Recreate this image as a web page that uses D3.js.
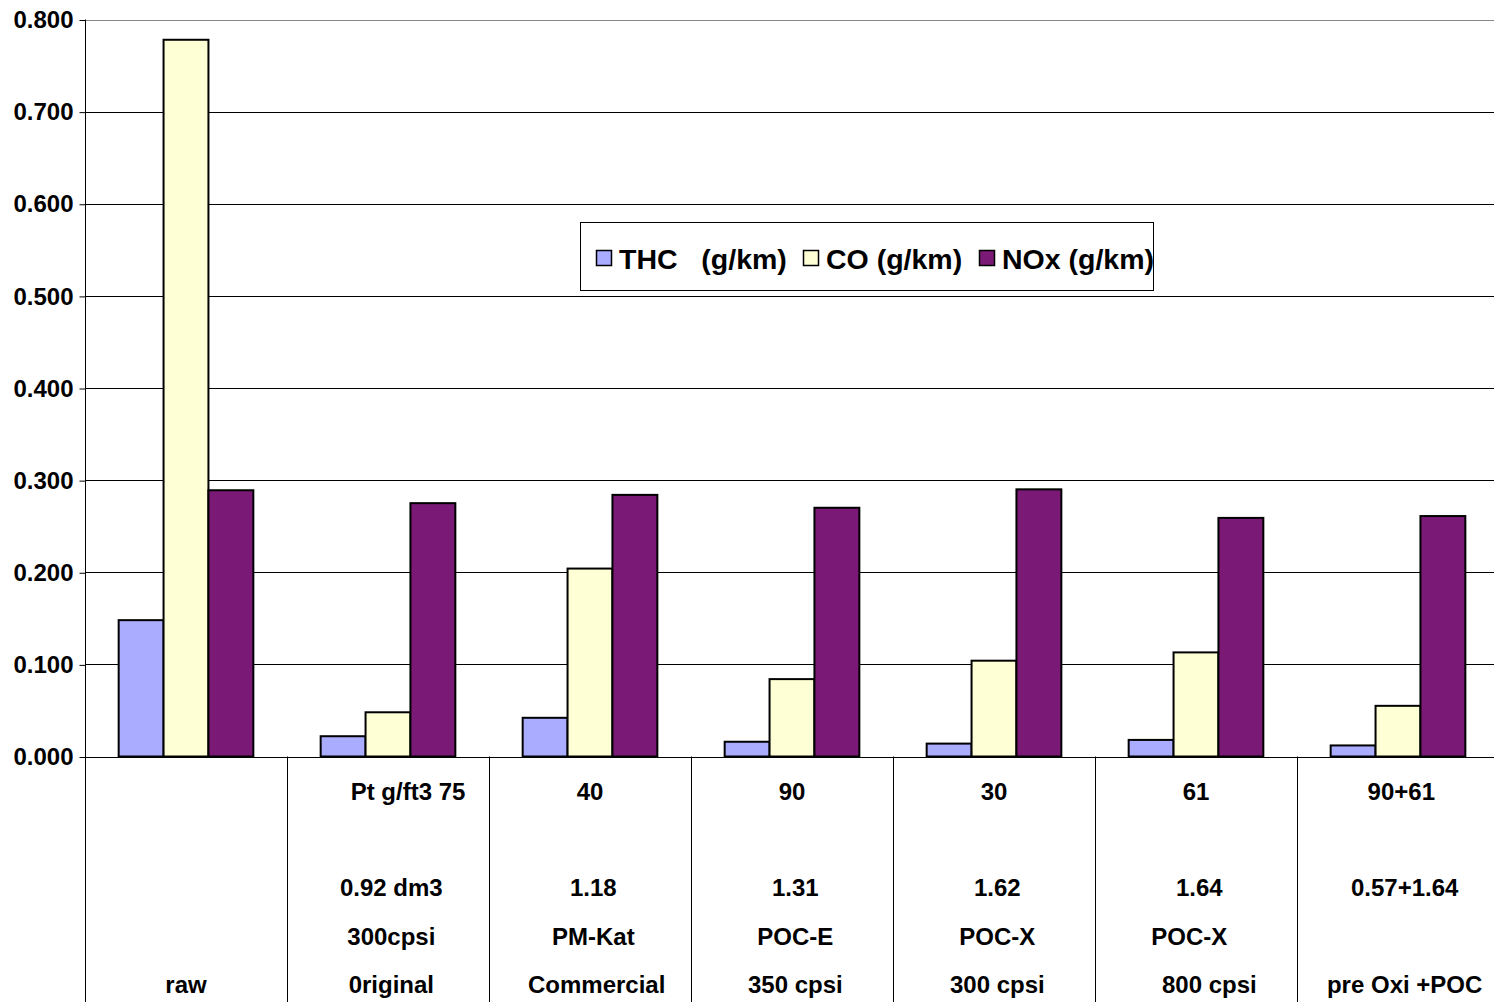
<!DOCTYPE html>
<html><head><meta charset="utf-8">
<script src="https://cdn.jsdelivr.net/npm/d3@7"></script>
<style>
html,body{margin:0;padding:0;background:#fff;}
svg{display:block;font-family:"Liberation Sans",Arial,sans-serif;font-weight:bold;}
</style></head>
<body><svg id="chart" width="1494" height="1002"></svg>
<script>
const categories = ["raw","Pt75","40","90","30","61","90+61"];
const categoryLines = [
  ["", "", "", "", "raw"],
  ["      Pt g/ft3 75", "", " 0.92 dm3", " 300cpsi", " 0riginal"],
  ["40", "", " 1.18", " PM-Kat", "  Commercial"],
  ["90", "", " 1.31", " POC-E", " 350 cpsi"],
  ["30", "", " 1.62", " POC-X", " 300 cpsi"],
  ["61", "", " 1.64", "POC-X  ", "    800 cpsi"],
  [" 90+61", "", "  0.57+1.64", "", "  pre Oxi +POC"]
];
const seriesNames = ["THC   (g/km)", "CO (g/km)", "NOx (g/km)"];
const THC = [0.148, 0.022, 0.042, 0.016, 0.014, 0.018, 0.012];
const CO  = [0.778, 0.048, 0.204, 0.084, 0.104, 0.113, 0.055];
const NOx = [0.289, 0.275, 0.284, 0.270, 0.290, 0.259, 0.261];
const yTicks = [0, 0.1, 0.2, 0.3, 0.4, 0.5, 0.6, 0.7, 0.8];
const colors = ["#A9ACFF", "#FFFFD6", "#7B1A76"];

(function () {
const series = [THC, CO, NOx];
const svg = d3.select("#chart");
const mLeft = 85, mRight = 1499, mTop = 19.5, mBottom = 756.5, labelBottom = 1002;

const x = d3.scaleBand().domain(categories).range([mLeft, mRight]).paddingInner(0).paddingOuter(0);
const inner = d3.scaleBand().domain(d3.range(3)).range([0, x.bandwidth()]).paddingInner(0).paddingOuter(0.75);
const y = d3.scaleLinear().domain([0, 0.8]).range([mBottom, mTop]);

// gridlines
svg.append("g").selectAll("line").data(yTicks).join("line")
  .attr("x1", mLeft).attr("x2", mRight)
  .attr("y1", d => Math.round(y(d)) + 0.5).attr("y2", d => Math.round(y(d)) + 0.5)
  .attr("stroke", (d,i) => i === yTicks.length-1 ? "#888" : "#000").attr("stroke-width", 1);

// y axis
const yAxis = d3.axisLeft(y).tickValues(yTicks).tickFormat(d3.format(".3f")).tickSize(6).tickPadding(6);
const ya = svg.append("g").attr("transform", `translate(${mLeft + 0.5},0.5)`).call(yAxis);
ya.select(".domain").remove();
ya.selectAll(".tick line").attr("stroke", "#000");
ya.selectAll("text").attr("font-size", 24).attr("font-weight", "bold").attr("fill", "#000")
  .attr("font-family", "'Liberation Sans', Arial, sans-serif");
svg.append("line").attr("x1", mLeft + 0.5).attr("x2", mLeft + 0.5).attr("y1", mTop).attr("y2", labelBottom).attr("stroke", "#000");

// category dividers
svg.append("g").selectAll("line").data(categories.slice(1)).join("line")
  .attr("x1", d => Math.round(x(d)) + 0.5).attr("x2", d => Math.round(x(d)) + 0.5)
  .attr("y1", mBottom).attr("y2", labelBottom).attr("stroke", "#000");

// bars
const groups = svg.append("g").selectAll("g").data(categories).join("g")
  .attr("transform", d => `translate(${x(d)},0)`);
groups.selectAll("rect").data((c, ci) => series.map((s, si) => ({si, v: s[ci]}))).join("rect")
  .attr("x", d => inner(d.si)).attr("width", inner.bandwidth())
  .attr("y", d => y(d.v)).attr("height", d => y(0) - y(d.v))
  .attr("fill", d => colors[d.si]).attr("stroke", "#000").attr("stroke-width", 2);

// category labels
const rowY = [799.5, 848, 896, 945, 993];
groups.each(function(c, ci) {
  d3.select(this).selectAll("text").data(categoryLines[ci]).join("text")
    .attr("x", x.bandwidth() / 2).attr("y", (d, i) => rowY[i])
    .attr("text-anchor", "middle").attr("font-size", 24).attr("fill", "#000")
    .style("white-space", "pre").text(d => d);
});

// legend
const lg = svg.append("g");
lg.append("rect").attr("x", 580.5).attr("y", 222.5).attr("width", 573).attr("height", 68)
  .attr("fill", "#fff").attr("stroke", "#000").attr("stroke-width", 1);
const legendX = [596, 803, 979];
seriesNames.forEach((n, i) => {
  lg.append("rect").attr("x", legendX[i] + 0.5).attr("y", 250.5).attr("width", 15).attr("height", 15)
    .attr("fill", colors[i]).attr("stroke", "#000").attr("stroke-width", 1.5);
  lg.append("text").attr("x", legendX[i] + 23).attr("y", 268.5).attr("font-size", 28.5)
    .attr("fill", "#000").style("white-space", "pre").text(n);
});
})();
</script></body></html>
